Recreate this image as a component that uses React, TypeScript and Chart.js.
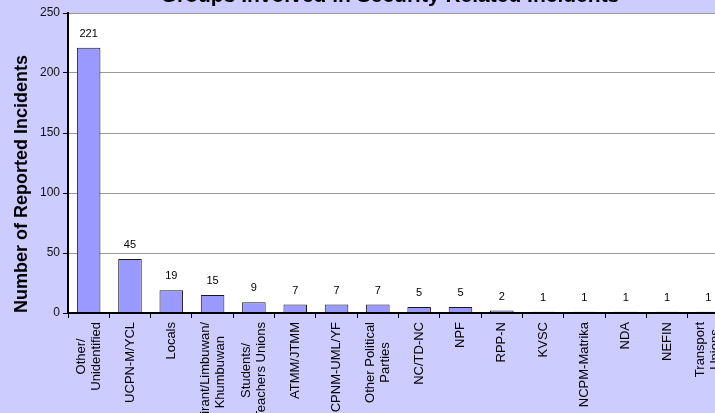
import React, { useEffect, useRef } from "react";
import { Chart, registerables } from "chart.js";

Chart.register(...registerables);

const TITLE = "Groups Involved in Security Related Incidents";
const Y_TITLE = "Number of Reported Incidents";

const CATEGORIES: string[][] = [
  ["Other/", "Unidentified"],
  ["UCPN-M/YCL"],
  ["Locals"],
  ["Kirant/Limbuwan/", "Khumbuwan"],
  ["Students/", "Teachers Unions"],
  ["ATMM/JTMM"],
  ["CPNM-UML/YF"],
  ["Other Political", "Parties"],
  ["NC/TD-NC"],
  ["NPF"],
  ["RPP-N"],
  ["KVSC"],
  ["NCPM-Matrika"],
  ["NDA"],
  ["NEFIN"],
  ["Transport", "Unions"],
];

const INCIDENTS: number[] = [221, 45, 19, 15, 9, 7, 7, 7, 5, 5, 2, 1, 1, 1, 1, 1];

const Y_MIN = 0;
const Y_MAX = 250;
const Y_STEP = 50;

const FONT = "'Liberation Sans', Arial, Helvetica, sans-serif";

export default function App() {
  const ref = useRef<HTMLCanvasElement>(null);

  useEffect(() => {
    const canvas = ref.current;
    if (!canvas) return;

    const plotBg = {
      id: "plotBg",
      beforeDraw(chart: any) {
        const { ctx, chartArea: a } = chart;
        ctx.save();
        ctx.fillStyle = "#ffffff";
        ctx.fillRect(a.left, a.top, a.right - a.left, a.bottom - a.top);
        ctx.restore();
      },
    };

    const valueLabels = {
      id: "valueLabels",
      afterDatasetsDraw(chart: any) {
        const ctx = chart.ctx;
        const meta = chart.getDatasetMeta(0);
        ctx.save();
        ctx.font = `11px ${FONT}`;
        ctx.fillStyle = "#000";
        ctx.textAlign = "center";
        ctx.textBaseline = "alphabetic";
        meta.data.forEach((bar: any, i: number) => {
          ctx.fillText(String(INCIDENTS[i]), bar.x, bar.y - 11);
        });
        ctx.restore();
      },
    };

    const categoryLabels = {
      id: "categoryLabels",
      afterDraw(chart: any) {
        const ctx = chart.ctx;
        const xs = chart.scales.x;
        const top = chart.chartArea.bottom + 9;
        ctx.save();
        ctx.font = `13px ${FONT}`;
        ctx.fillStyle = "#000";
        ctx.textAlign = "center";
        ctx.textBaseline = "middle";
        CATEGORIES.forEach((lines, i) => {
          const x = xs.getPixelForValue(i);
          const w = Math.max(...lines.map((l) => ctx.measureText(l).width));
          ctx.save();
          ctx.translate(x, top);
          ctx.rotate(-Math.PI / 2);
          lines.forEach((line, k) => {
            ctx.fillText(line, -w / 2, (k - (lines.length - 1) / 2) * 15);
          });
          ctx.restore();
        });
        ctx.restore();
      },
    };

    const chart = new Chart(canvas, {
      type: "bar",
      data: {
        labels: CATEGORIES,
        datasets: [
          {
            data: INCIDENTS,
            backgroundColor: "#9999FF",
            borderColor: "#1a1a1a",
            borderWidth: 1,
            barPercentage: 0.57,
            categoryPercentage: 1,
          },
        ],
      },
      options: {
        responsive: false,
        animation: false,
        devicePixelRatio: 1,
        layout: { padding: 0 },
        plugins: {
          legend: { display: false },
          tooltip: { enabled: false },
          title: {
            display: true,
            text: TITLE,
            color: "#000",
            font: { family: FONT, size: 21, weight: "bold" },
            padding: { top: 0, bottom: 3.8 },
          },
        },
        scales: {
          x: {
            type: "category",
            offset: true,
            grid: {
              offset: true,
              drawOnChartArea: false,
              drawTicks: true,
              tickLength: 5,
              color: "#000",
              tickColor: "#000",
              lineWidth: 1,
            },
            border: { display: true, color: "#000", width: 2, z: 1 },
            ticks: { display: false, autoSkip: false },
            afterFit: (s: any) => {
              s.height = 131;
            },
          },
          y: {
            type: "linear",
            position: "left",
            min: Y_MIN,
            max: Y_MAX,
            ticks: {
              stepSize: Y_STEP,
              color: "#111",
              padding: 3,
              font: { family: FONT, size: 12 },
            },
            grid: {
              color: "#999",
              tickColor: "#000",
              tickLength: 5,
              lineWidth: 1,
            },
            border: { display: true, color: "#000", width: 2, z: 1 },
            title: {
              display: true,
              text: Y_TITLE,
              align: "start",
              color: "#000",
              font: { family: FONT, size: 18, weight: "bold" },
              padding: { top: 11, bottom: 0 },
            },
            afterFit: (s: any) => {
              s.width = 68;
            },
          },
          pad: {
            type: "linear",
            position: "right",
            display: true,
            grid: { display: false },
            border: { display: false },
            ticks: { display: false },
            afterFit: (s: any) => {
              s.width = 51;
            },
          },
        },
      },
      plugins: [plotBg, valueLabels, categoryLabels],
    } as any);

    return () => chart.destroy();
  }, []);

  return (
    <div
      style={{
        position: "fixed",
        left: 0,
        top: 0,
        width: 715,
        height: 413,
        overflow: "hidden",
        background: "#CCCCFF",
      }}
    >
      <canvas
        ref={ref}
        width={780}
        height={460}
        style={{ position: "absolute", left: 0, top: -16, width: 780, height: 460 }}
      />
    </div>
  );
}
